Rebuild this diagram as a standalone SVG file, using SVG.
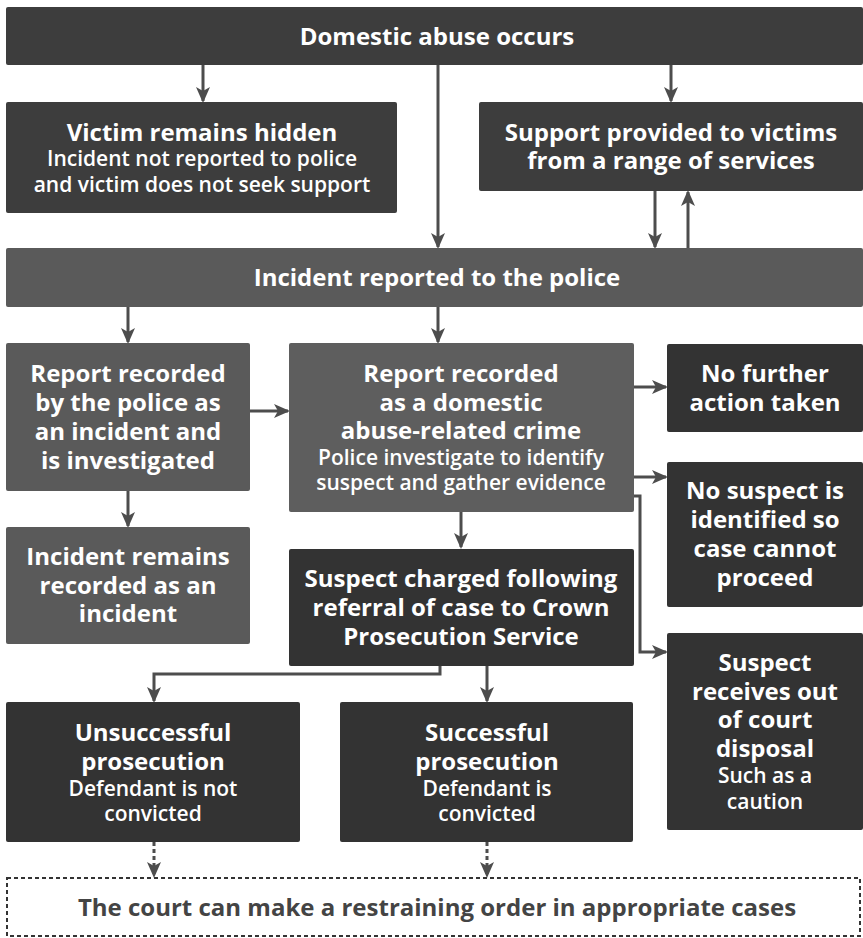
<svg xmlns="http://www.w3.org/2000/svg" width="863" height="938" viewBox="0 0 863 938">
<defs>
<style>
.bx{stroke:none}
.d1{fill:#3d3d3d}
.d2{fill:#333333}
.m{fill:#5a5a5a}
.m2{fill:#5e5e5e}
.t{font-family:"Open Sans","Liberation Sans",sans-serif;font-weight:700;font-size:24px;fill:#ffffff;text-anchor:middle}
.s{font-family:"Open Sans","Liberation Sans",sans-serif;font-weight:600;font-size:21px;fill:#ffffff;text-anchor:middle}
.c{stroke:#4d4d4d;stroke-width:3;fill:none}
.dash{stroke:#4d4d4d;stroke-width:3;fill:none;stroke-dasharray:4 3}
</style>
<marker id="ah" markerUnits="userSpaceOnUse" markerWidth="16" markerHeight="14" refX="14" refY="7" orient="auto">
<path d="M0,0 L16,7 L0,14 L4,7 Z" fill="#4d4d4d"/>
</marker>
</defs>
<rect width="863" height="938" fill="#ffffff"/>

<g id="connectors">
<line class="c" x1="203" y1="65" x2="203" y2="101" marker-end="url(#ah)"/>
<line class="c" x1="438" y1="65" x2="438" y2="247" marker-end="url(#ah)"/>
<line class="c" x1="671" y1="65" x2="671" y2="101" marker-end="url(#ah)"/>
<line class="c" x1="655" y1="191" x2="655" y2="247" marker-end="url(#ah)"/>
<line class="c" x1="688" y1="248" x2="688" y2="192" marker-end="url(#ah)"/>
<line class="c" x1="128" y1="307" x2="128" y2="342" marker-end="url(#ah)"/>
<line class="c" x1="438" y1="307" x2="438" y2="342" marker-end="url(#ah)"/>
<line class="c" x1="250" y1="411" x2="288" y2="411" marker-end="url(#ah)"/>
<line class="c" x1="128" y1="491" x2="128" y2="526" marker-end="url(#ah)"/>
<line class="c" x1="634" y1="387" x2="666" y2="387" marker-end="url(#ah)"/>
<line class="c" x1="634" y1="477" x2="666" y2="477" marker-end="url(#ah)"/>
<polyline class="c" points="634,496 640,496 640,652 666,652" marker-end="url(#ah)"/>
<line class="c" x1="461" y1="512" x2="461" y2="547" marker-end="url(#ah)"/>
<polyline class="c" points="440,666 440,674 154,674 154,701" marker-end="url(#ah)"/>
<line class="c" x1="487" y1="666" x2="487" y2="701" marker-end="url(#ah)"/>
<line class="dash" x1="154" y1="842" x2="154" y2="876" marker-end="url(#ah)"/>
<line class="dash" x1="487" y1="842" x2="487" y2="876" marker-end="url(#ah)"/>
</g>

<g id="n-domestic">
<rect class="bx d1" x="6" y="7" width="857" height="58" rx="2"/>
<text class="t" x="437" y="45">Domestic abuse occurs</text>
</g>

<g id="n-hidden">
<rect class="bx d1" x="6" y="102" width="391" height="111" rx="2"/>
<text class="t" x="202" y="141">Victim remains hidden</text>
<text class="s" x="202" y="166">Incident not reported to police</text>
<text class="s" x="202" y="192">and victim does not seek support</text>
</g>

<g id="n-support">
<rect class="bx d1" x="479" y="102" width="384" height="89" rx="2"/>
<text class="t" x="671" y="141">Support provided to victims</text>
<text class="t" x="671" y="169">from a range of services</text>
</g>

<g id="n-reported">
<rect class="bx m" x="6" y="248" width="857" height="59" rx="2"/>
<text class="t" x="437" y="286">Incident reported to the police</text>
</g>

<g id="n-incident">
<rect class="bx m" x="6" y="343" width="244" height="148" rx="2"/>
<text class="t" x="128" y="382">Report recorded</text>
<text class="t" x="128" y="411">by the police as</text>
<text class="t" x="128" y="440">an incident and</text>
<text class="t" x="128" y="469">is investigated</text>
</g>

<g id="n-crime">
<rect class="bx m2" x="289" y="343" width="345" height="169" rx="2"/>
<text class="t" x="461" y="382">Report recorded</text>
<text class="t" x="461" y="411">as a domestic</text>
<text class="t" x="461" y="439">abuse-related crime</text>
<text class="s" x="461" y="465">Police investigate to identify</text>
<text class="s" x="461" y="490">suspect and gather evidence</text>
</g>

<g id="n-nfa">
<rect class="bx d2" x="667" y="344" width="196" height="88" rx="2"/>
<text class="t" x="765" y="382">No further</text>
<text class="t" x="765" y="411">action taken</text>
</g>

<g id="n-nosuspect">
<rect class="bx d2" x="667" y="462" width="196" height="145" rx="2"/>
<text class="t" x="765" y="499">No suspect is</text>
<text class="t" x="765" y="528">identified so</text>
<text class="t" x="765" y="557">case cannot</text>
<text class="t" x="765" y="586">proceed</text>
</g>

<g id="n-remains">
<rect class="bx m" x="6" y="527" width="244" height="117" rx="2"/>
<text class="t" x="128" y="565">Incident remains</text>
<text class="t" x="128" y="594">recorded as an</text>
<text class="t" x="128" y="622">incident</text>
</g>

<g id="n-charged">
<rect class="bx d2" x="289" y="549" width="345" height="117" rx="2"/>
<text class="t" x="461" y="587">Suspect charged following</text>
<text class="t" x="461" y="616">referral of case to Crown</text>
<text class="t" x="461" y="645">Prosecution Service</text>
</g>

<g id="n-disposal">
<rect class="bx d2" x="667" y="633" width="196" height="197" rx="2"/>
<text class="t" x="765" y="671">Suspect</text>
<text class="t" x="765" y="700">receives out</text>
<text class="t" x="765" y="728">of court</text>
<text class="t" x="765" y="757">disposal</text>
<text class="s" x="765" y="783">Such as a</text>
<text class="s" x="765" y="809">caution</text>
</g>

<g id="n-unsuccessful">
<rect class="bx d2" x="6" y="702" width="294" height="140" rx="2"/>
<text class="t" x="153" y="741">Unsuccessful</text>
<text class="t" x="153" y="770">prosecution</text>
<text class="s" x="153" y="796">Defendant is not</text>
<text class="s" x="153" y="821">convicted</text>
</g>

<g id="n-successful">
<rect class="bx d2" x="340" y="702" width="293" height="140" rx="2"/>
<text class="t" x="487" y="741">Successful</text>
<text class="t" x="487" y="770">prosecution</text>
<text class="s" x="487" y="796">Defendant is</text>
<text class="s" x="487" y="821">convicted</text>
</g>

<g id="n-court">
<rect x="7" y="878" width="853" height="58" fill="#ffffff" stroke="#333333" stroke-width="2" stroke-dasharray="4 3"/>
<text class="t" x="437" y="916" style="fill:#444444">The court can make a restraining order in appropriate cases</text>
</g>
</svg>
